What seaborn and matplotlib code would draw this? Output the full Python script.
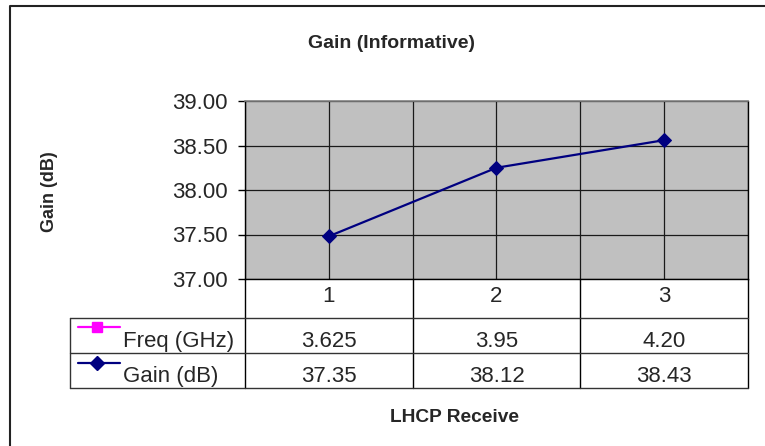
import numpy as np
import matplotlib.pyplot as plt
import matplotlib.transforms as mtransforms
from matplotlib.lines import Line2D
import seaborn as sns
import pandas as pd

# data
points = [1, 2, 3]
gain_plotted = [37.48, 38.25, 38.56]
freq_table = ["3.625", "3.95", "4.20"]
gain_table = ["37.35", "38.12", "38.43"]
y_ticks = [37.0, 37.5, 38.0, 38.5, 39.0]

gain_color = "#000080"
freq_color = "#FF00FF"
plot_bg = "#C0C0C0"
fs = 16

sns.set_style("white")
plt.rcParams['font.family'] = ['Liberation Sans', 'DejaVu Sans']

fig = plt.figure(figsize=(7.65, 4.46), dpi=100)
W, H = 765, 446
ax = fig.add_axes([245 / W, 1 - 279 / H, 503 / W, 178 / H])
ax.set_facecolor(plot_bg)

df = pd.DataFrame({'point': points, 'gain': gain_plotted})
sns.lineplot(data=df, x='point', y='gain', color=gain_color, marker='D',
             markersize=7.5, markeredgecolor=gain_color, linewidth=1.6, ax=ax, zorder=5)

ax.set_xlim(0.5, 3.5)
ax.set_ylim(37, 39)
ax.set_yticks(y_ticks)
ax.set_yticklabels([f"{t:.2f}" for t in y_ticks], fontsize=fs)
ax.set_xticks(points)
ax.set_xticks([0.5, 1.5, 2.5, 3.5], minor=True)
ax.set_xticklabels([])
ax.tick_params(axis='x', which='both', length=0)
ax.tick_params(axis='y', length=5, width=1, color='black', pad=7.5, left=True)
ax.grid(True, which='both', color='#1a1a1a', linewidth=0.9)
ax.set_axisbelow(True)
ax.set_xlabel(None)
ax.set_ylabel(None)

for s in ['left', 'bottom', 'right']:
    ax.spines[s].set_color('black')
    ax.spines[s].set_linewidth(1)
ax.spines['top'].set_color('#808080')
ax.spines['top'].set_linewidth(1.2)

# data table under the plot
trans = mtransforms.blended_transform_factory(ax.transData, ax.transAxes)
def ay(py):
    return (279 - py) / 178
def axx(px):
    return (px - 245) / 503

row_top, row_mid, row_bot = ay(318), ay(353), ay(388)
for xb in [0.5, 1.5, 2.5, 3.5]:
    ax.add_line(Line2D([xb, xb], [0, row_bot], transform=trans, color='black', lw=1, clip_on=False))
for yy in [row_top, row_mid, row_bot]:
    ax.add_line(Line2D([axx(70), 1], [yy, yy], transform=ax.transAxes, color='#333333', lw=1, clip_on=False))
ax.add_line(Line2D([axx(70), axx(70)], [row_top, row_bot], transform=ax.transAxes, color='#333333', lw=1, clip_on=False))

for p in points:
    ax.text(p, ay(297), str(p), transform=trans, ha='center', va='center', fontsize=fs)
for p, f, g in zip(points, freq_table, gain_table):
    ax.text(p, ay(347), f, transform=trans, ha='center', va='baseline', fontsize=fs)
    ax.text(p, ay(382), g, transform=trans, ha='center', va='baseline', fontsize=fs)

# legend keys inside the table
for ky, ty, col, mk, lab in [(327, 347, freq_color, 's', 'Freq (GHz)'),
                             (363, 382, gain_color, 'D', 'Gain (dB)')]:
    ax.add_line(Line2D([axx(78), axx(120)], [ay(ky), ay(ky)], transform=ax.transAxes,
                       color=col, lw=1.6, clip_on=False))
    ax.add_line(Line2D([axx(97)], [ay(ky)], transform=ax.transAxes, color=col, marker=mk,
                       markersize=7, markeredgecolor=col, clip_on=False))
    ax.text(axx(123), ay(ty), lab, transform=ax.transAxes, ha='left', va='baseline', fontsize=fs)

# titles
fig.text(392 / W, 1 - 43 / H, "Gain (Informative)", ha='center', va='center', fontsize=14, fontweight='bold')
fig.text(50 / W, 1 - 192 / H, "Gain (dB)", ha='center', va='center', rotation=90, fontsize=13, fontweight='bold')
fig.text(455 / W, 1 - 417 / H, "LHCP Receive", ha='center', va='center', fontsize=13.8, fontweight='bold')

# chart area border (only top and left visible)
fig.add_artist(Line2D([10 / W, 10 / W, 1.0], [0.0, 1 - 6 / H, 1 - 6 / H], transform=fig.transFigure,
                      color='#222222', lw=1.5))

fig.savefig("out.png", dpi=100)
